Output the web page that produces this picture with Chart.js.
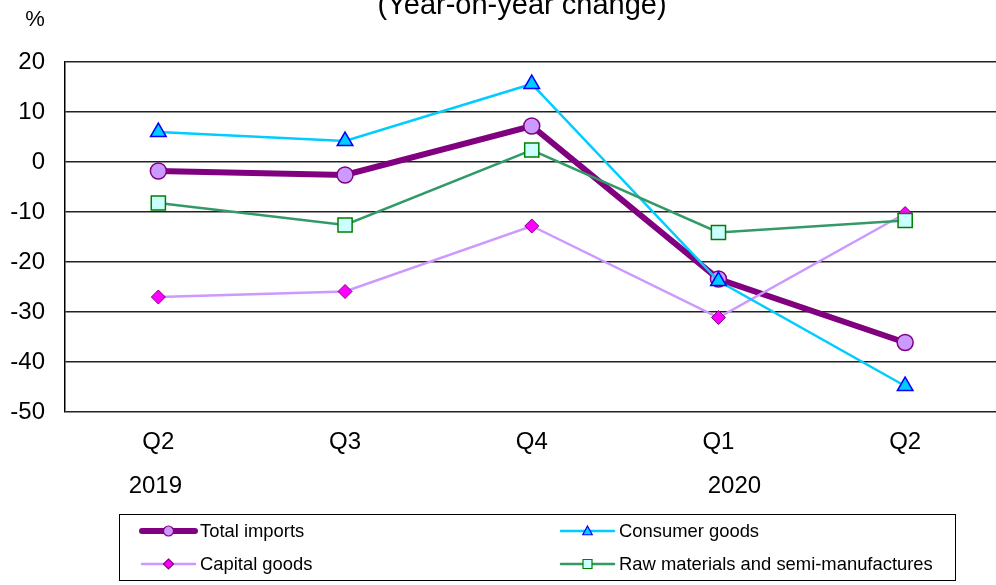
<!DOCTYPE html>
<html>
<head>
<meta charset="utf-8">
<script src="https://cdn.jsdelivr.net/npm/chart.js@4.4.1/dist/chart.umd.min.js"></script>
<style>
  html, body { margin: 0; padding: 0; background: #fff; overflow: hidden; }
  #wrap { width: 1010px; height: 585px; }
</style>
</head>
<body>
<div id="wrap"><canvas id="c" width="1010" height="585"></canvas></div>
<script>
// ---- data ----
const quarters = ['Q2', 'Q3', 'Q4', 'Q1', 'Q2'];
const years = ['2019', '', '', '2020', ''];
const yTicks = [20, 10, 0, -10, -20, -30, -40, -50];
const totalImports = [-1.8, -2.6, 7.2, -23.4, -36.1];
const consumerGoods = [6.0, 4.2, 15.6, -23.8, -44.8];
const capitalGoods = [-27.0, -25.9, -12.8, -31.1, -10.3];
const rawMaterials = [-8.2, -12.6, 2.4, -14.1, -11.7];
const titleText = '(Year-on-year change)';
const unitText = '%';

const FONT = '"Liberation Sans", Arial, sans-serif';

const datasets = [
  { label: 'Total imports', data: totalImports, borderColor: '#800080', borderWidth: 6,
    pointStyle: 'circle', pointRadius: 8, pointBackgroundColor: '#CC99FF', pointBorderColor: '#800080',
    pointBorderWidth: 1.5, order: 3, legendPos: [0, 0] },
  { label: 'Consumer goods', data: consumerGoods, borderColor: '#00CCFF', borderWidth: 2.5,
    pointStyle: 'triangle', pointRadius: 9, pointBackgroundColor: '#00CCFF', pointBorderColor: '#0000FF',
    pointBorderWidth: 1.5, order: 1, legendPos: [1, 0] },
  { label: 'Capital goods', data: capitalGoods, borderColor: '#CC99FF', borderWidth: 2.5,
    pointStyle: 'rectRot', pointRadius: 7, pointBackgroundColor: '#FF00FF', pointBorderColor: '#800080',
    pointBorderWidth: 1, order: 2, legendPos: [0, 1] },
  { label: 'Raw materials and semi-manufactures', data: rawMaterials, borderColor: '#339966', borderWidth: 2.5,
    pointStyle: 'rect', pointRadius: 10, pointBackgroundColor: '#CCFFFF', pointBorderColor: '#008000',
    pointBorderWidth: 1.5, order: 0, legendPos: [1, 1] }
];

function drawMarker(ctx, style, x, y, r, fill, stroke, bw) {
  ctx.save();
  ctx.beginPath();
  if (style === 'circle') {
    ctx.arc(x, y, r, 0, Math.PI * 2);
  } else if (style === 'triangle') {
    ctx.moveTo(x, y - r);
    ctx.lineTo(x + r * 0.95, y + r * 0.75);
    ctx.lineTo(x - r * 0.95, y + r * 0.75);
    ctx.closePath();
  } else if (style === 'rectRot') {
    ctx.moveTo(x, y - r); ctx.lineTo(x + r, y); ctx.lineTo(x, y + r); ctx.lineTo(x - r, y); ctx.closePath();
  } else {
    ctx.rect(x - r, y - r, 2 * r, 2 * r);
  }
  ctx.fillStyle = fill; ctx.fill();
  ctx.strokeStyle = stroke; ctx.lineWidth = bw; ctx.stroke();
  ctx.restore();
}

const decor = {
  id: 'decor',
  afterDraw(chart) {
    const ctx = chart.ctx;
    const xs = chart.scales.x;
    ctx.save();
    ctx.fillStyle = '#000';
    // title & unit
    ctx.font = '29px ' + FONT;
    ctx.textAlign = 'center';
    ctx.textBaseline = 'alphabetic';
    ctx.fillText(titleText, 522, 14);
    ctx.font = '22px ' + FONT;
    ctx.textBaseline = 'middle';
    ctx.fillText(unitText, 35, 20);
    // years
    ctx.font = '24px ' + FONT;
    const yearShift = [-3, 0, 0, 16, 0];
    years.forEach((y, i) => {
      if (y) ctx.fillText(y, xs.getPixelForValue(i) + yearShift[i], 486);
    });
    // legend
    ctx.strokeStyle = '#000';
    ctx.lineWidth = 1;
    ctx.strokeRect(119.5, 514.5, 836, 66);
    const colX = [142, 561];
    const rowY = [531, 564];
    ctx.font = '18.4px ' + FONT;
    ctx.textAlign = 'left';
    ctx.textBaseline = 'middle';
    chart.data.datasets.forEach(ds => {
      const lx = colX[ds.legendPos[0]];
      const ly = rowY[ds.legendPos[1]];
      ctx.beginPath();
      ctx.moveTo(lx, ly); ctx.lineTo(lx + 53, ly);
      ctx.strokeStyle = ds.borderColor;
      ctx.lineWidth = ds.borderWidth;
      ctx.lineCap = 'round';
      ctx.stroke();
      const mr = ds.pointStyle === 'rect' ? 4.5 : 5;
      drawMarker(ctx, ds.pointStyle, lx + 26.5, ly, mr, ds.pointBackgroundColor, ds.pointBorderColor, 1.2);
      ctx.fillStyle = '#000';
      ctx.fillText(ds.label, lx + 58, ly + 1);
    });
    ctx.restore();
  }
};

new Chart(document.getElementById('c'), {
  type: 'line',
  data: {
    labels: quarters,
    datasets: datasets.map(d => Object.assign({ fill: false, tension: 0, clip: false }, d))
  },
  options: {
    responsive: false,
    animation: false,
    layout: { padding: { top: 62, left: 0, right: 0, bottom: 0 } },
    plugins: { legend: { display: false }, tooltip: { enabled: false }, title: { display: false } },
    scales: {
      x: {
        offset: true,
        grid: { display: false, drawTicks: false },
        border: { display: false },
        ticks: { color: '#000', font: { family: FONT, size: 24 }, padding: 16, maxRotation: 0, autoSkip: false },
        afterFit(s) { s.height = 173; }
      },
      y: {
        min: -50, max: 20,
        grid: { color: '#222', lineWidth: 1.5, drawTicks: false },
        border: { display: true, color: '#000', width: 1.5 },
        afterBuildTicks(s) { s.ticks = yTicks.map(v => ({ value: v })); },
        ticks: { color: '#000', font: { family: FONT, size: 24 }, padding: 20 },
        afterFit(s) { s.width = 65; }
      }
    }
  },
  plugins: [decor]
});
</script>
</body>
</html>
